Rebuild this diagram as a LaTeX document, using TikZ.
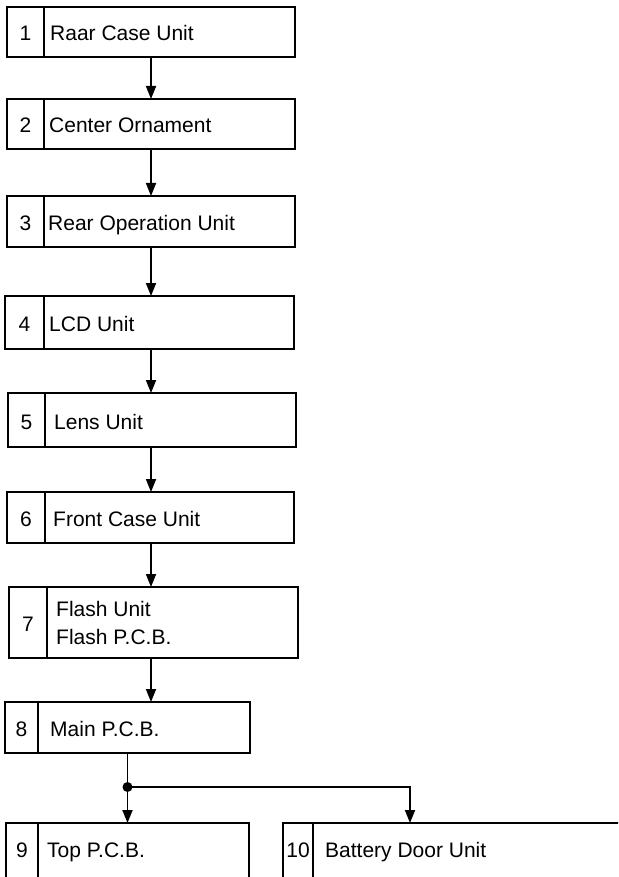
\documentclass[tikz,border=0pt]{standalone}
\usepackage{fontspec}
\setmainfont{Liberation Sans}
\usetikzlibrary{arrows.meta,positioning,calc}

\begin{document}
\begin{tikzpicture}[>={Triangle[length=13pt,width=10pt]},x=1pt,y=-1pt,
  font=\fontsize{21}{28}\selectfont,
  unit/.style={draw,line width=1.8pt,rectangle,anchor=north west,inner sep=0pt,outer sep=0pt},
  link/.style={->,line width=1.8pt}]
\useasboundingbox (0,0) rectangle (618,877);
\clip (0,0) rectangle (618,877);
% boxes: number/left/top/right/bottom/divider/text x
\foreach \n/\l/\t/\r/\b/\d/\tx/\lab in {
  1/7/7/295/57/44/50/Raar Case Unit,
  2/7/99/295/149/44/49/Center Ornament,
  3/7/196/295/247/44/48/Rear Operation Unit,
  4/5/296/294/349/44/49/LCD Unit,
  5/8/393/296/447/45/54/Lens Unit,
  6/7/492/294/543/45/53/Front Case Unit,
  7/9/587/298/658/47/56/,
  8/5/702/250/753/38/50/Main P.C.B.,
  9/6/823/249/900/38/47/Top P.C.B.,
  10/283/823/640/900/313/325/Battery Door Unit} {
  \node[unit,minimum width={(\r-\l)*1pt},minimum height={(\b-\t)*1pt}] (b\n) at (\l,\t) {};
  \draw[line width=1.8pt] (\d,\t) -- (\d,\b);
  \node[anchor=base] (num\n) at ({(\l+\d)/2},{min((\t+\b)/2,848)+9}) {\n};
  \node[anchor=base west,inner sep=0pt] (lab\n) at (\tx,{min((\t+\b)/2,848)+9}) {\lab};
}
\node[anchor=west,align=left,inner sep=0pt] (lab7b) at (56,622.5) {Flash Unit\\Flash P.C.B.};

\foreach \i/\j in {1/2,2/3,3/4,4/5,5/6,6/7,7/8}
  \draw[link] (b\i.south -| b1.south) -- (b\j.north -| b1.south);

\coordinate (fork) at ($(b8.south)+(0,34)$);
\coordinate (tip10) at ($(b10.north west)+(127,0)$);
\draw[line width=1.8pt] (b8.south) -- (fork);
\draw[link] (fork) -- (fork |- b9.north);
\draw[link] (fork) -| (tip10);
\fill (fork) circle (5);
\end{tikzpicture}
\end{document}
